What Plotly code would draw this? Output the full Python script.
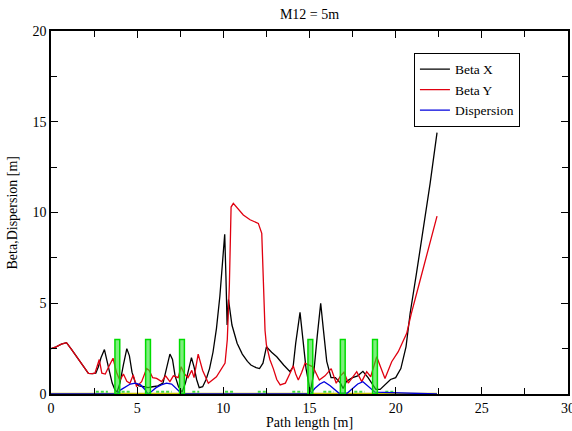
import plotly.graph_objects as go

# ---- data ----
bx_s = [0, 0.3, 0.6, 0.9, 1.2, 1.5, 1.8, 2.17, 2.4, 2.6, 2.75, 2.9, 3.1, 3.25, 3.4, 3.55, 3.7, 3.83,
        4.0, 4.2, 4.4, 4.55, 4.7, 4.9, 5.1, 5.4, 5.63, 5.9, 6.2, 6.5, 6.7, 6.9, 7.05, 7.2, 7.4, 7.6,
        7.8, 8.0, 8.15, 8.3, 8.45, 8.6, 8.8, 9.0, 9.2, 9.4, 9.6, 9.8, 9.95, 10.08, 10.15, 10.22, 10.3,
        10.5, 10.8, 11.1, 11.4, 11.6, 11.9, 12.1, 12.3, 12.5, 12.8, 13.1, 13.5, 13.87, 14.05, 14.2,
        14.45, 14.6, 14.8, 15.05, 15.25, 15.45, 15.65, 15.8, 16.0, 16.25, 16.5, 16.8, 16.95, 17.15,
        17.5, 17.8, 18.1, 18.4, 18.6, 18.85, 19.1, 19.4, 19.7, 20.0, 20.3, 20.6, 20.84, 21.2, 21.6,
        22.0, 22.4]
beta_x = [2.5, 2.6, 2.75, 2.83, 2.45, 2.05, 1.65, 1.14, 1.12, 1.15, 1.5, 2.0, 2.45, 1.9, 1.2, 0.6, 0.25, 0.1,
          0.6, 1.6, 2.5, 2.1, 1.2, 0.6, 0.45, 0.4, 0.35, 0.4, 0.45, 0.6, 1.4, 2.2, 1.9, 1.0, 0.4, 0.1,
          0.6, 1.5, 2.0, 1.5, 0.8, 0.35, 0.4, 0.8, 1.4, 2.3, 3.6, 5.4, 7.3, 8.8, 6.5, 3.8, 5.2,
          3.8, 2.8, 2.2, 1.8, 1.6, 1.45, 1.4, 1.7, 2.6, 2.3, 2.05, 1.6, 1.23, 1.5, 2.8,
          4.5, 3.3, 1.4, 0.1, 1.2, 3.2, 5.0, 3.6, 1.8, 0.9, 0.9, 0.6, 0.3, 0.7,
          0.9, 1.0, 1.25, 0.9, 0.6, 0.25, 0.25, 0.5, 0.8, 0.9, 1.4, 2.6, 4.45, 6.6, 9.1,
          11.6, 14.4]

by_s = [0, 0.3, 0.6, 0.9, 1.2, 1.5, 1.8, 2.17, 2.4, 2.55, 2.7, 2.8, 2.95, 3.15, 3.35, 3.6, 3.8,
        4.0, 4.2, 4.4, 4.58, 4.77, 4.96, 5.26, 5.55, 5.7, 5.9, 6.13, 6.42, 6.65, 6.9, 7.1, 7.38,
        7.55, 7.75, 7.95, 8.17, 8.3, 8.54, 8.8, 9.13, 9.6, 10.1, 10.23, 10.35, 10.45, 10.58, 11.16,
        11.55, 12.03, 12.23, 12.32, 12.42, 12.5, 12.7, 12.9, 13.1, 13.3, 13.6, 13.85, 14.06, 14.2,
        14.35, 14.55, 14.74, 14.95, 15.2, 15.57, 15.9, 16.26, 16.55, 16.8, 17.0, 17.25, 17.5,
        17.74, 18.03, 18.32, 18.55, 18.9, 19.19, 19.38, 19.77, 20.15, 20.64, 20.9, 21.4, 21.9, 22.4]
beta_y = [2.5, 2.6, 2.75, 2.83, 2.45, 2.05, 1.65, 1.14, 1.12, 1.15, 1.6, 1.9, 1.15, 1.1, 1.5, 1.97, 1.2,
          0.75, 1.1, 0.7, 0.59, 1.05, 0.42, 0.68, 1.4, 1.3, 0.9, 0.86, 0.68, 1.0, 0.68, 1.0, 0.9,
          1.5, 1.1, 0.9, 1.3, 0.9, 2.2, 1.3, 0.59, 0.95, 1.7, 3.0, 6.0, 10.3, 10.5, 9.86,
          9.6, 9.4, 8.85, 5.7, 3.5, 2.7, 1.9, 1.4, 0.8, 0.5, 0.6, 1.1, 1.55, 1.1,
          0.77, 1.2, 1.7, 1.6, 1.5, 0.77, 1.0, 1.4, 0.59, 1.0, 1.2, 0.6, 0.9,
          1.23, 0.68, 1.23, 0.95, 2.05, 1.32, 0.86, 1.78, 2.33, 3.34, 4.4, 6.2, 8.0, 9.8]

d_s = [0, 3.83, 4.0, 4.3, 4.6, 4.9, 5.2, 5.45, 5.63, 5.85, 6.1, 6.4, 6.7, 7.0, 7.3, 7.6,
       15.05, 15.3, 15.6, 15.85, 16.2, 16.5, 16.7, 17.2, 17.5, 17.8, 18.1, 18.4, 18.8, 22.4]
dispersion = [0, 0, 0.2, 0.4, 0.55, 0.6, 0.5, 0.25, 0, 0.15, 0.35, 0.5, 0.6, 0.55, 0.3, 0,
              0, 0.3, 0.55, 0.68, 0.45, 0.2, 0.05, 0.05, 0.3, 0.55, 0.68, 0.45, 0.1, 0]

bend_s = [3.85, 5.63, 7.6, 15.05, 16.93, 18.8]
bend_h = [3, 3, 3, 3, 3, 3]
bend_len = 0.28

quad_start = [2.6, 4.1, 6.1, 8.2, 10.1, 12.0, 14.0, 15.8, 17.6, 19.4]
quad_end = [3.3, 4.6, 7.0, 8.6, 10.6, 12.5, 14.6, 16.4, 18.2, 19.9]
quad_level = 0.13

line_end = 22.4

# ---- figure ----
FONT = "Liberation Serif"
fig = go.Figure()

fig.add_trace(go.Scatter(x=[0, line_end], y=[0, 0], mode="lines",
                         line=dict(color="#c8c000", width=2.5), showlegend=False, hoverinfo="skip"))

qx, qy = [], []
for a, b in zip(quad_start, quad_end):
    qx += [a, b, None]
    qy += [quad_level, quad_level, None]
fig.add_trace(go.Scatter(x=qx, y=qy, mode="lines",
                         line=dict(color="#44dd44", width=2, dash="3px,2px"),
                         showlegend=False, hoverinfo="skip"))

fig.add_trace(go.Scatter(x=bx_s, y=beta_x, mode="lines", name="Beta X",
                         line=dict(color="#000000", width=1.3)))
fig.add_trace(go.Scatter(x=by_s, y=beta_y, mode="lines", name="Beta Y",
                         line=dict(color="#e00010", width=1.3)))
fig.add_trace(go.Scatter(x=d_s, y=dispersion, mode="lines", name="Dispersion",
                         line=dict(color="#0000dd", width=1.3)))

# bending magnets drawn on top of the optics curves
rx, ry = [], []
for s, h in zip(bend_s, bend_h):
    rx += [s - bend_len / 2, s + bend_len / 2, s + bend_len / 2, s - bend_len / 2, s - bend_len / 2, None]
    ry += [0, 0, h, h, 0, None]
fig.add_trace(go.Scatter(x=rx, y=ry, mode="lines", fill="toself",
                         fillcolor="rgba(40,225,40,0.6)",
                         line=dict(color="#00dd00", width=1.5),
                         showlegend=False, hoverinfo="skip"))

axis_common = dict(showline=True, linecolor="black", linewidth=1.5, mirror="ticks",
                   ticks="inside", ticklen=7, tickwidth=1.3, tickcolor="black",
                   showgrid=False, zeroline=False, ticklabeloverflow="allow", automargin=False,
                   tickfont=dict(family=FONT, size=14, color="black"))

fig.update_xaxes(range=[0, 30], dtick=5, tick0=0,
                 minor=dict(dtick=2.5, ticks="inside", ticklen=6, tickcolor="black", tickwidth=1.3),
                 **axis_common)
fig.update_yaxes(range=[0, 20], dtick=5, tick0=0,
                 minor=dict(dtick=2.5, ticks="inside", ticklen=6, tickcolor="black", tickwidth=1.3),
                 **axis_common)

fig.update_layout(
    width=572, height=431,
    margin=dict(l=51, r=4, t=31, b=37, autoexpand=False),
    paper_bgcolor="white", plot_bgcolor="white",
    font=dict(family=FONT, size=13, color="black"),
    title=dict(text="M12 = 5m", x=0.5, xref="paper", y=1 - 14 / 431, yref="container",
               xanchor="center", yanchor="middle", font=dict(family=FONT, size=14)),
    legend=dict(x=0.702, y=0.94, xanchor="left", yanchor="top",
                bgcolor="white", bordercolor="black", borderwidth=1,
                font=dict(family=FONT, size=13.5), itemwidth=30, tracegroupgap=0),
    annotations=[
        dict(text="Path length [m]", xref="paper", yref="paper", x=0.5, y=0,
             xanchor="center", yanchor="middle", yshift=-28, showarrow=False,
             font=dict(family=FONT, size=14)),
        dict(text="Beta,Dispersion [m]", xref="paper", yref="paper", x=0, y=0.5,
             xanchor="center", yanchor="middle", xshift=-39, textangle=-90, showarrow=False,
             font=dict(family=FONT, size=14)),
    ],
)

fig.write_html("out.html")
